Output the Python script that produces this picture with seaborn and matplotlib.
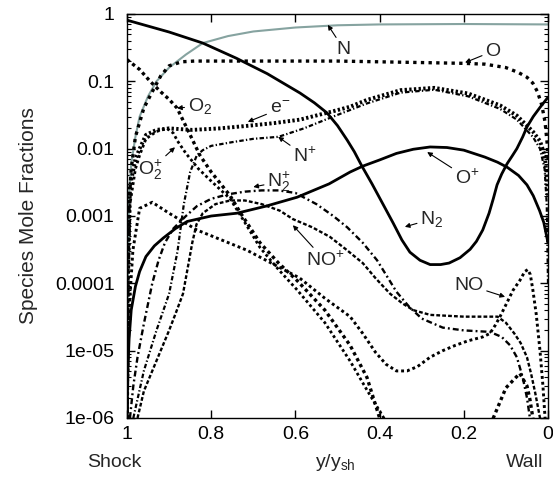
import numpy as np
import pandas as pd
import matplotlib
matplotlib.use("Agg")
import matplotlib.pyplot as plt
import seaborn as sns

# species mole fractions vs y/y_sh (1 = shock, 0 = wall)
N_x = [1.0, 0.998, 0.995, 0.99, 0.98, 0.97, 0.95, 0.93, 0.9, 0.86, 0.82, 0.76, 0.7, 0.6, 0.5, 0.4, 0.2, 0.0]
N_y = [1e-6, 1e-4, 2e-3, 6e-3, 0.015, 0.03, 0.06, 0.1, 0.16, 0.25, 0.37, 0.47, 0.55, 0.63, 0.68, 0.70, 0.71, 0.70]

O_x = [1.0, 0.998, 0.995, 0.99, 0.98, 0.96, 0.94, 0.92, 0.9, 0.87, 0.84, 0.7, 0.5, 0.3, 0.2, 0.15,
       0.1, 0.07, 0.05, 0.036, 0.025, 0.015, 0.007, 0.002, 0.0]
O_y = [1e-6, 1e-4, 1.5e-3, 5e-3, 0.015, 0.04, 0.07, 0.12, 0.17, 0.195, 0.2, 0.2, 0.2, 0.19, 0.185, 0.18,
       0.16, 0.135, 0.115, 0.094, 0.07, 0.045, 0.025, 0.012, 0.007]

N2_x = [1.0, 0.9, 0.82, 0.74, 0.667, 0.589, 0.555, 0.525, 0.5, 0.477, 0.46, 0.442, 0.418, 0.392, 0.368,
        0.347, 0.328, 0.304, 0.28, 0.255, 0.235, 0.209, 0.185, 0.17, 0.155, 0.14, 0.13, 0.121,
        0.11, 0.097, 0.085, 0.074, 0.06, 0.05, 0.035, 0.019, 0.0]
N2_y = [0.81, 0.54, 0.37, 0.22, 0.13, 0.067, 0.048, 0.034, 0.022, 0.0134, 0.009, 0.0055, 3e-3, 1.5e-3,
        7.9e-4, 4.4e-4, 2.9e-4, 2.2e-4, 1.9e-4, 1.9e-4, 2.0e-4, 2.4e-4, 3.2e-4, 4.2e-4, 6.2e-4,
        1.1e-3, 1.8e-3, 2.9e-3, 4.2e-3, 6e-3, 7.8e-3, 0.01, 0.015, 0.021, 0.03, 0.041, 0.058]

O2_x = [1.0, 0.97, 0.945, 0.92, 0.9, 0.881, 0.85, 0.827, 0.8, 0.755, 0.73, 0.684, 0.64, 0.596, 0.53,
        0.47, 0.43, 0.40, 0.37, 0.3, 0.15, 0.13, 0.1, 0.067, 0.05, 0.043, 0.036, 0.02]
O2_y = [0.21, 0.15, 0.1, 0.07, 0.054, 0.04, 0.016, 8e-3, 4.5e-3, 2e-3, 1.1e-3, 4e-4, 2e-4, 1.1e-4, 4e-5,
        1.2e-5, 4e-6, 1e-6, 2e-7, 1e-8, 1e-8, 1e-6, 2.8e-6, 4.6e-6, 3e-6, 1.9e-6, 1e-6, 1e-7]

Op_x = [1.0, 0.998, 0.995, 0.99, 0.98, 0.97, 0.955, 0.935, 0.914, 0.885, 0.857, 0.8, 0.739, 0.67, 0.596,
        0.52, 0.47, 0.44, 0.40, 0.36, 0.32, 0.28, 0.24, 0.2, 0.15, 0.12, 0.097, 0.07, 0.05, 0.035,
        0.02, 0.01, 0.0]
Op_y = [1e-6, 5e-6, 1.5e-5, 4e-5, 9e-5, 1.5e-4, 2.5e-4, 3.6e-4, 4.7e-4, 6.5e-4, 8.3e-4, 1e-3, 1.1e-3,
        1.4e-3, 1.9e-3, 3e-3, 4.5e-3, 5.5e-3, 6.8e-3, 8.5e-3, 9.8e-3, 0.0106, 0.0104, 9.5e-3, 7.5e-3,
        6.3e-3, 5.3e-3, 4e-3, 2.9e-3, 2.0e-3, 1.2e-3, 8e-4, 4e-4]

e_x = [1.0, 0.998, 0.993, 0.98, 0.97, 0.955, 0.93, 0.9, 0.845, 0.78, 0.708, 0.65, 0.589, 0.51, 0.47,
       0.43, 0.35, 0.27, 0.19, 0.114, 0.074, 0.036, 0.019, 0.008, 0.003, 0.0]
e_y = [1e-6, 1e-4, 2.7e-3, 7e-3, 0.01, 0.016, 0.019, 0.02, 0.019, 0.02, 0.022, 0.024, 0.027, 0.036, 0.042,
       0.053, 0.074, 0.08, 0.066, 0.044, 0.031, 0.018, 0.013, 0.008, 0.004, 2e-3]

O2p_x = [1.0, 0.998, 0.993, 0.98, 0.97, 0.955, 0.93, 0.905, 0.89, 0.88, 0.86, 0.83, 0.8, 0.755, 0.72,
         0.684, 0.64, 0.596, 0.53, 0.47, 0.43, 0.39, 0.36]
O2p_y = [1e-6, 5e-5, 1.5e-3, 5e-3, 8e-3, 0.014, 0.018, 0.02, 0.017, 0.013, 0.0085, 0.005, 0.0033, 1.8e-3,
         8e-4, 3.4e-4, 1.6e-4, 8e-5, 2.6e-5, 7e-6, 2.6e-6, 1e-6, 1e-7]

Np_x = [0.985, 0.96, 0.93, 0.9, 0.88, 0.865, 0.85, 0.834, 0.82, 0.8, 0.75, 0.7, 0.64, 0.58, 0.51, 0.43,
        0.35, 0.27, 0.19, 0.114, 0.074, 0.036, 0.019, 0.008, 0.003, 0.0]
Np_y = [1e-6, 5e-6, 2e-5, 7e-5, 3e-4, 1.5e-3, 4.5e-3, 8e-3, 9.5e-3, 0.011, 0.0125, 0.014, 0.015, 0.02,
        0.03, 0.047, 0.068, 0.075, 0.06, 0.039, 0.027, 0.015, 0.01, 0.005, 1.5e-3, 1e-4]

N2p_x = [0.993, 0.985, 0.975, 0.96, 0.95, 0.94, 0.925, 0.91, 0.89, 0.86, 0.834, 0.8, 0.76, 0.72, 0.68,
         0.64, 0.6, 0.55, 0.51, 0.477, 0.44, 0.406, 0.38, 0.36, 0.33, 0.30, 0.25, 0.2, 0.138, 0.11,
         0.09, 0.074, 0.06, 0.05, 0.043, 0.03]
N2p_y = [1e-6, 3e-6, 8e-6, 2.5e-5, 5e-5, 1e-4, 2.2e-4, 4e-4, 6.5e-4, 1e-3, 1.4e-3, 1.8e-3, 2.1e-3, 2.3e-3,
         2.4e-3, 2.4e-3, 2.2e-3, 1.5e-3, 1e-3, 6.8e-4, 4e-4, 2.2e-4, 1.2e-4, 7.5e-5, 4.5e-5, 3e-5,
         2.2e-5, 2e-5, 1.9e-5, 1.6e-5, 1.2e-5, 8e-6, 4e-6, 2e-6, 1e-6, 1e-7]

NOp_x = [0.975, 0.96, 0.94, 0.92, 0.9, 0.885, 0.867, 0.855, 0.845, 0.835, 0.82, 0.79, 0.755, 0.72, 0.68,
         0.637, 0.606, 0.56, 0.518, 0.48, 0.44, 0.41, 0.375, 0.345, 0.32, 0.28, 0.2, 0.12, 0.1, 0.08,
         0.065, 0.05, 0.04, 0.03, 0.019, 0.01]
NOp_y = [1e-6, 2.5e-6, 5e-6, 1e-5, 2e-5, 3.5e-5, 7e-5, 1.8e-4, 4e-4, 7.5e-4, 1.1e-3, 1.5e-3, 1.7e-3,
         1.7e-3, 1.5e-3, 1.2e-3, 9e-4, 6.8e-4, 4.9e-4, 3.2e-4, 2e-4, 1.2e-4, 7e-5, 5e-5, 4e-5, 3.4e-5,
         3.2e-5, 3.2e-5, 2.6e-5, 1.8e-5, 1.3e-5, 8e-6, 4.5e-6, 2.3e-6, 1e-6, 1e-7]

NO_x = [1.0, 0.995, 0.986, 0.97, 0.94, 0.9, 0.834, 0.715, 0.59, 0.53, 0.47, 0.44, 0.41, 0.385, 0.36,
        0.335, 0.31, 0.28, 0.25, 0.22, 0.19, 0.155, 0.138, 0.125, 0.114, 0.1, 0.083, 0.067, 0.055,
        0.048, 0.042, 0.036, 0.028, 0.019, 0.012, 0.007, 0.0]
NO_y = [1e-6, 4e-5, 3.1e-4, 1.3e-3, 1.6e-3, 1.1e-3, 6.2e-4, 3.1e-4, 1.2e-4, 6e-5, 3.2e-5, 1.8e-5, 9.5e-6,
        6.3e-6, 5e-6, 5e-6, 5.8e-6, 8e-6, 1e-5, 1.2e-5, 1.4e-5, 1.6e-5, 1.8e-5, 2.4e-5, 3.2e-5, 4.8e-5,
        7.9e-5, 1.1e-4, 1.5e-4, 1.6e-4, 1.35e-4, 8e-5, 3.5e-5, 1e-5, 3e-6, 1e-6, 1e-7]

yticks = [1, 0.1, 0.01, 0.001, 0.0001, 1e-5, 1e-6]
ytick_labels = ["1", "0.1", "0.01", "0.001", "0.0001", "1e-05", "1e-06"]
xticks = [1, 0.8, 0.6, 0.4, 0.2, 0]
xtick_labels = ["1", "0.8", "0.6", "0.4", "0.2", "0"]

series = {
    "N": (N_x, N_y), "O": (O_x, O_y), "N2": (N2_x, N2_y), "O2": (O2_x, O2_y),
    "O+": (Op_x, Op_y), "e-": (e_x, e_y), "O2+": (O2p_x, O2p_y), "N+": (Np_x, Np_y),
    "N2+": (N2p_x, N2p_y), "NO+": (NOp_x, NOp_y), "NO": (NO_x, NO_y),
}

# line appearance for each species
styles = {
    "N":   dict(color="#86a3a0", linewidth=1.5, linestyle="-"),
    "O":   dict(color="black", linewidth=2.4, linestyle=(0, (1.0, 1.3))),
    "N2":  dict(color="black", linewidth=2.0, linestyle="-"),
    "O2":  dict(color="black", linewidth=2.4, linestyle=(0, (1.0, 1.0))),
    "O+":  dict(color="black", linewidth=2.0, linestyle="-"),
    "e-":  dict(color="black", linewidth=2.8, linestyle=(0, (0.6, 0.6))),
    "O2+": dict(color="black", linewidth=2.0, linestyle=(0, (1.0, 1.0))),
    "N+":  dict(color="black", linewidth=1.6, linestyle=(0, (2.0, 1.0, 0.6, 1.0))),
    "N2+": dict(color="black", linewidth=1.7, linestyle=(0, (2.5, 1.3, 0.8, 1.3))),
    "NO+": dict(color="black", linewidth=1.7, linestyle=(0, (1.6, 0.9))),
    "NO":  dict(color="black", linewidth=2.1, linestyle=(0, (1.0, 1.0))),
}

sns.set_theme(style="ticks")
plt.rcParams["font.family"] = ["Liberation Sans", "DejaVu Sans"]
plt.rcParams["mathtext.default"] = "regular"

fig = plt.figure(figsize=(5.53, 4.84), dpi=100)
ax = fig.add_axes([127 / 553, 66 / 484, 421 / 553, 404 / 484])

for name, (xs, ys) in series.items():
    df = pd.DataFrame({"x": xs, "y": ys})
    sns.lineplot(data=df, x="x", y="y", ax=ax, sort=False, estimator=None,
                 legend=False, **styles[name])

ax.set_yscale("log")
ax.set_ylim(1e-6, 1)
ax.set_xlim(1, 0)
ax.set_yticks(yticks)
ax.set_yticklabels(ytick_labels)
ax.set_xticks(xticks)
ax.set_xticklabels(xtick_labels)
ax.set_xlabel("")
ax.set_ylabel("Species Mole Fractions", fontsize=15, labelpad=12)

ax.tick_params(which="both", direction="in", top=True, right=True, colors="black")
ax.tick_params(which="major", length=6, width=1, labelsize=14)
ax.tick_params(which="minor", length=3, width=0.8)
ax.tick_params(axis="x", pad=6)
ax.tick_params(axis="y", pad=9)
for sp in ax.spines.values():
    sp.set_linewidth(1.0)
    sp.set_color("black")

# axis captions under the tick labels
trans = ax.get_xaxis_transform()
ax.text(1.03, -0.11, "Shock", transform=trans, ha="center", va="center", fontsize=14)
ax.text(0.506, -0.11, "y/y$_{sh}$", transform=trans, ha="center", va="center", fontsize=14)
ax.text(0.055, -0.11, "Wall", transform=trans, ha="center", va="center", fontsize=14)

# species labels with arrows
arrow = dict(arrowstyle="-|>", color="black", lw=0.8, mutation_scale=7, shrinkA=0, shrinkB=0)
labels = [
    ("N", (0.523, 0.69), (0.485, 0.30)),
    ("O", (0.197, 0.19), (0.131, 0.28)),
    ("O$_2$", (0.881, 0.04), (0.827, 0.043)),
    ("e$^{-}$", (0.713, 0.025), (0.637, 0.039)),
    ("N$^{+}$", (0.641, 0.015), (0.577, 0.0078)),
    ("O$_2^{+}$", (0.886, 0.0105), (0.945, 0.0048)),
    ("N$_2^{+}$", (0.70, 0.0027), (0.639, 0.0032)),
    ("O$^{+}$", (0.287, 0.0089), (0.192, 0.0037)),
    ("N$_2$", (0.34, 6.9e-4), (0.276, 9e-4)),
    ("NO$^{+}$", (0.606, 7.3e-4), (0.53, 2.2e-4)),
    ("NO", (0.102, 6.3e-5), (0.188, 9.4e-5)),
]
for text, tip, pos in labels:
    ax.annotate(text, xy=tip, xytext=pos, ha="center", va="center",
                fontsize=14, arrowprops=arrow)

fig.savefig("out.png", dpi=100)
